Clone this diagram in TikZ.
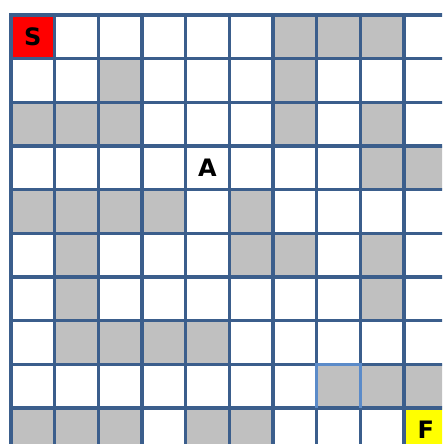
\documentclass[tikz,border=0pt]{standalone}
\usepackage{fontspec}
\setsansfont{DejaVu Sans}
\definecolor{gridblue}{HTML}{3B5E8C}
\definecolor{lightblue}{HTML}{5B8BC9}
\definecolor{wallgray}{HTML}{C0C0C0}
\definecolor{startred}{HTML}{FF0000}
\definecolor{goalyellow}{HTML}{FFFF00}
\begin{document}
\begin{tikzpicture}[x=1pt,y=-1pt,
  gridline/.style={draw=gridblue,line width=3.4pt},
  lightline/.style={draw=lightblue,line width=3.4pt},
  wall/.style={fill=wallgray},
  lbl/.style={font=\sffamily\bfseries\fontsize{24}{24}\selectfont,text=black,inner sep=0pt}]
\useasboundingbox (0,0) rectangle (442,444);
\clip (0,0) rectangle (442,444);
\def\cs{43.67}
\foreach \c/\r in {6/0,7/0,8/0, 2/1,6/1, 0/2,1/2,2/2,6/2,8/2, 8/3,9/3, 0/4,1/4,2/4,3/4,5/4, 1/5,5/5,6/5,8/5, 1/6,8/6, 1/7,2/7,3/7,4/7, 7/8,8/8,9/8, 0/9,1/9,2/9,4/9,5/9}
  \fill[wall] ({11+\c*\cs},{15+\r*\cs}) rectangle ++(\cs,\cs);
\fill[startred] (11,15) rectangle ++(\cs,\cs);
\fill[goalyellow] ({11+9*\cs},{15+9*\cs}) rectangle ++(\cs,\cs);
\foreach \i in {0,...,10} {
  \draw[gridline] ({11+\i*\cs},{15-1.7}) -- ({11+\i*\cs},470);
  \draw[gridline] ({11-1.7},{15+\i*\cs}) -- (470,{15+\i*\cs});
}
\draw[lightline] ({11+7*\cs},{15+9*\cs}) -- ++(0,-\cs) -- ++(\cs,0) -- ++(0,\cs);
\node[lbl] (S) at ({11+0.5*\cs},{15+0.5*\cs}) {S};
\node[lbl] (A) at ({11+4.5*\cs},{15+3.5*\cs}) {A};
\node[lbl] (F) at ({11+9.5*\cs},{15+9.5*\cs}) {F};
\end{tikzpicture}
\end{document}
